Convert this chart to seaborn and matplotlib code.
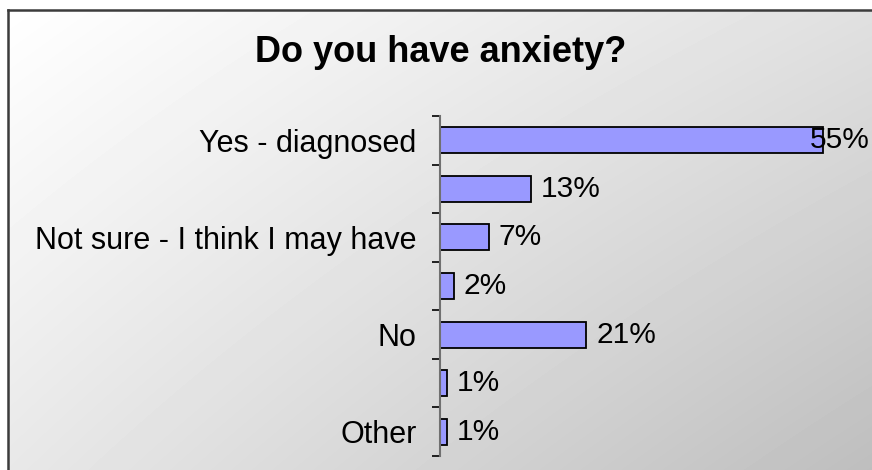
import numpy as np
import pandas as pd
import matplotlib
matplotlib.use("Agg")
import matplotlib.pyplot as plt
from matplotlib.ticker import FixedLocator
import seaborn as sns

# Survey answers (every other row label is left blank on the axis)
row_labels = ["Yes - diagnosed", "", "Not sure - I think I may have", "", "No", "", "Other"]
percentages = [55, 13, 7, 2, 21, 1, 1]
title_text = "Do you have anxiety?"

sns.set_theme(style="white")
plt.rcParams["font.family"] = ["Liberation Sans", "DejaVu Sans"]

W, H, DPI = 872, 470, 100
fig = plt.figure(figsize=(W / DPI, H / DPI), dpi=DPI)
fig.patch.set_facecolor("white")

# Chart-area background: diagonal grey gradient inside a dark frame
bx0, by0 = 8, 10  # frame left / top in pixels
bg = fig.add_axes([bx0 / W, 0, 1 - bx0 / W, 1 - by0 / H], zorder=-2)
gx = np.linspace(0, 1, W - bx0)[None, :]
gy = np.linspace(0, 1, H - by0)[:, None]
c_tl, c_tr, c_bl, c_br = 255, 224, 232, 190
grad = (c_tl * (1 - gx) * (1 - gy) + c_tr * gx * (1 - gy)
        + c_bl * (1 - gx) * gy + c_br * gx * gy) / 255.0
bg.imshow(grad, cmap="gray", vmin=0, vmax=1, aspect="auto",
          extent=(0, 1, 1, 0), interpolation="nearest")
bg.set_xlim(0, 1)
bg.set_ylim(1, 0)
bg.axis("off")

# Frame lines along the top and left edges of the chart area
frame = fig.add_axes([0, 0, 1, 1], zorder=-1)
frame.set_xlim(0, W)
frame.set_ylim(H, 0)
frame.axis("off")
frame.patch.set_alpha(0)
frame.plot([bx0, W + 5], [by0, by0], color="#3c3c3c", lw=1.8,
           solid_capstyle="projecting")
frame.plot([bx0, bx0], [by0, H + 5], color="#3c3c3c", lw=1.8,
           solid_capstyle="projecting")

# Plot area
ax_left, ax_top, ax_bottom = 440, 116, 456
ax = fig.add_axes([ax_left / W, (H - ax_bottom) / H,
                   (W - ax_left) / W, (ax_bottom - ax_top) / H])
ax.patch.set_alpha(0)

df = pd.DataFrame({"pos": np.arange(len(percentages)), "pct": percentages})
sns.barplot(data=df, x="pct", y="pos", orient="h", color="#9999FF",
            saturation=1, edgecolor="black", linewidth=1.3, width=0.535, ax=ax)

ax.set_xlim(0, 62)
ax.set_ylim(len(percentages) - 0.5, -0.5)
ax.set_xlabel("")
ax.set_ylabel("")
ax.set_xticks([])
for s in ["top", "right", "bottom"]:
    ax.spines[s].set_visible(False)
ax.spines["left"].set_color("#707070")
ax.spines["left"].set_linewidth(1.5)

ax.set_yticks(np.arange(len(row_labels)))
ax.set_yticklabels(row_labels, fontsize=22, color="black")
ax.tick_params(axis="y", which="major", length=0, pad=17)
ax.yaxis.set_minor_locator(FixedLocator(np.arange(-0.5, len(percentages), 1.0)))
ax.tick_params(axis="y", which="minor", left=True, length=6, width=1.2,
               color="black", direction="out")

# Value labels just past each bar; kept inside the figure if too long
fig.canvas.draw()
renderer = fig.canvas.get_renderer()
for i, v in enumerate(percentages):
    t = ax.annotate(f"{v}%", xy=(v, i), xytext=(7, 0), textcoords="offset points",
                    ha="left", va="center", fontsize=21.5, color="black")
    bb = t.get_window_extent(renderer)
    if bb.x1 > W - 2:
        t.remove()
        ax.annotate(f"{v}%", xy=(1.0, i), xycoords=("figure fraction", "data"),
                    xytext=(-2, 0), textcoords="offset points",
                    ha="right", va="center", fontsize=21.5, color="black")

fig.text(441 / W, 1 - 53 / H, title_text, ha="center", va="center",
         fontsize=26, fontweight="bold", color="black")

fig.savefig("out.png", dpi=DPI)
